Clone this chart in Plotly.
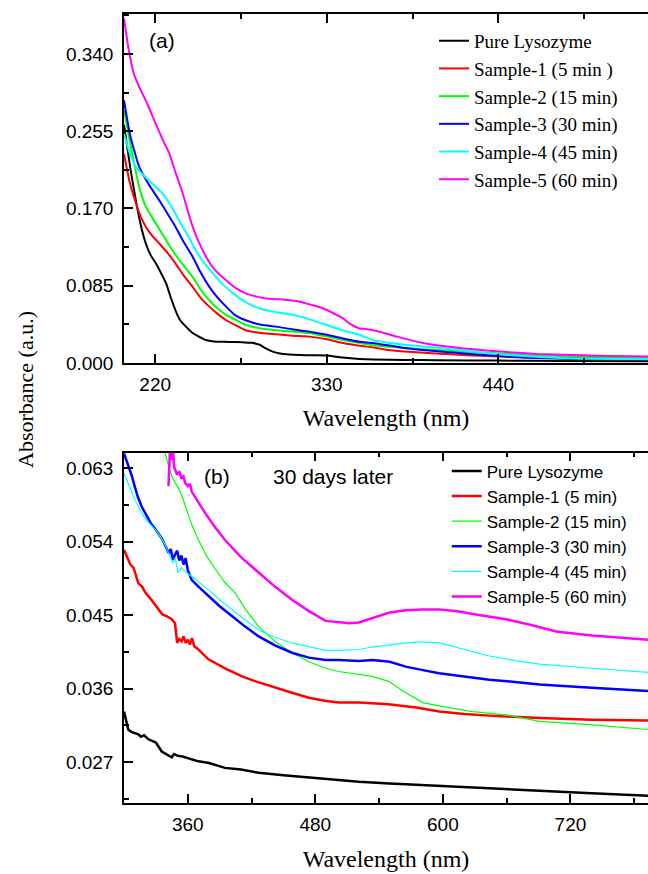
import plotly.graph_objects as go

# ---------------- Panel (a) data ----------------
names_a = ["Pure Lysozyme", "Sample-1 (5 min )", "Sample-2 (15 min)",
           "Sample-3 (30 min)", "Sample-4 (45 min)", "Sample-5 (60 min)"]
colors = ["#000000", "#FF0000", "#00FF00", "#0000FF", "#00FFFF", "#FF00FF"]

a_black_x = [200, 204, 207.6, 211, 214, 217, 220.4, 224, 227, 230, 233, 236, 239.7, 244, 248, 253, 259, 267, 276, 282, 287, 291, 295.4, 300, 306, 312.6, 322, 330, 340, 351, 360, 380, 400, 440, 480, 536]
a_black_y = [0.262, 0.215, 0.179, 0.150, 0.1315, 0.119, 0.1096, 0.098, 0.0876, 0.072, 0.058, 0.047, 0.040, 0.033, 0.029, 0.025, 0.0234, 0.0232, 0.0227, 0.0222, 0.020, 0.016, 0.0125, 0.0105, 0.0094, 0.0088, 0.0085, 0.0082, 0.0060, 0.0044, 0.0038, 0.0034, 0.0030, 0.0026, 0.0023, 0.0020]

a_red_x = [200, 203.5, 207.6, 211, 214, 218, 222.6, 228, 233, 238, 244, 249, 254.7, 260, 265.5, 272, 278, 288, 297.6, 308, 319, 330, 340.4, 351, 360, 370.5, 385, 400, 420, 445, 470, 500, 536]
a_red_y = [0.230, 0.200, 0.176, 0.160, 0.150, 0.140, 0.1315, 0.121, 0.1096, 0.097, 0.0838, 0.072, 0.062, 0.054, 0.047, 0.041, 0.036, 0.033, 0.0315, 0.030, 0.029, 0.026, 0.022, 0.019, 0.0170, 0.014, 0.0120, 0.0105, 0.0085, 0.0068, 0.0058, 0.0052, 0.0050]

a_green_x = [200, 204.4, 209.7, 214, 220.4, 226, 231, 237, 244, 249, 254.7, 260, 265.5, 272, 278, 288, 297.6, 308, 319, 330, 340.4, 351, 360, 380, 402.6, 445, 488, 536]
a_green_y = [0.278, 0.238, 0.194, 0.172, 0.1535, 0.138, 0.124, 0.110, 0.0948, 0.081, 0.069, 0.060, 0.053, 0.047, 0.0418, 0.038, 0.036, 0.0345, 0.033, 0.029, 0.0253, 0.022, 0.0195, 0.0165, 0.014, 0.010, 0.007, 0.006]

a_blue_x = [200, 204, 209.7, 216, 222.6, 228, 233, 238, 244, 249, 254.7, 260, 265.5, 271, 278, 288, 297.6, 308, 319, 330, 340.4, 351, 359.6, 380, 402.6, 445.5, 488, 536]
a_blue_y = [0.289, 0.250, 0.216, 0.196, 0.179, 0.164, 0.150, 0.134, 0.117, 0.100, 0.0838, 0.072, 0.062, 0.053, 0.047, 0.042, 0.040, 0.037, 0.0344, 0.031, 0.027, 0.0234, 0.022, 0.0165, 0.0125, 0.007, 0.0045, 0.004]

a_cyan_x = [200, 203.5, 207.6, 214, 220.4, 225, 229, 233, 237.6, 242, 246, 251, 257, 263, 270, 278, 287, 297, 308, 319, 330, 340, 351, 359.6, 380, 402.6, 445.5, 488, 536]
a_cyan_y = [0.252, 0.232, 0.216, 0.204, 0.194, 0.186, 0.176, 0.164, 0.150, 0.137, 0.124, 0.111, 0.0986, 0.087, 0.0766, 0.067, 0.060, 0.056, 0.053, 0.048, 0.0418, 0.036, 0.031, 0.0253, 0.020, 0.0165, 0.0088, 0.005, 0.0045]

a_mag_x = [200, 203, 206, 209.7, 215, 220.4, 225, 229, 233, 237.6, 241, 244, 248, 252.6, 258, 265.5, 272, 278, 285, 291, 300, 312.6, 320, 327.6, 334, 340.4, 345, 351, 355, 364, 375, 391.7, 410, 441, 465, 488, 510, 536]
a_mag_y = [0.379, 0.345, 0.320, 0.304, 0.285, 0.263, 0.245, 0.231, 0.210, 0.187, 0.167, 0.150, 0.133, 0.117, 0.103, 0.091, 0.082, 0.0766, 0.073, 0.071, 0.070, 0.0674, 0.064, 0.060, 0.055, 0.049, 0.043, 0.038, 0.0375, 0.0344, 0.029, 0.022, 0.0175, 0.0125, 0.010, 0.0088, 0.0078, 0.007]

# ---------------- Panel (b) data ----------------
names_b = ["Pure Lysozyme", "Sample-1 (5 min)", "Sample-2 (15 min)",
           "Sample-3 (30 min)", "Sample-4 (45 min)", "Sample-5 (60 min)"]

b_black_x = [300, 302, 304, 307, 310, 313.5, 316, 319, 323, 326, 330, 335.5, 340, 345, 347, 350, 355, 363.8, 370, 380, 395, 410, 426.7, 450, 474, 500, 521, 550, 596, 640, 691, 740, 793]
b_black_y = [0.0332, 0.0322, 0.0310, 0.0307, 0.0306, 0.0304, 0.0301, 0.0303, 0.0298, 0.0296, 0.0294, 0.0283, 0.0280, 0.0276, 0.0280, 0.0278, 0.0277, 0.0274, 0.0271, 0.0269, 0.0263, 0.0261, 0.0257, 0.0254, 0.0251, 0.0248, 0.0246, 0.0244, 0.0241, 0.0238, 0.0235, 0.0232, 0.0229]

b_red_x = [300, 303, 306, 309, 313.5, 317, 320, 325, 332, 336, 340, 345, 348, 349, 350, 352, 354, 356, 358, 360, 362, 364, 366, 370, 379.5, 395, 411, 426, 442.5, 458, 474, 490, 502, 521, 549, 575, 596.5, 620, 643.7, 691, 740, 793]
b_red_y = [0.0530, 0.0521, 0.0512, 0.0508, 0.0489, 0.0485, 0.0478, 0.0470, 0.0457, 0.0451, 0.0449, 0.0445, 0.0440, 0.0428, 0.0416, 0.0421, 0.0418, 0.0424, 0.0416, 0.0420, 0.0414, 0.0422, 0.0412, 0.0408, 0.0396, 0.0385, 0.0375, 0.0368, 0.0361, 0.0355, 0.0349, 0.0345, 0.0343, 0.0343, 0.0341, 0.0337, 0.0332, 0.0329, 0.0327, 0.0324, 0.0322, 0.0321]

b_green_x = [336, 338, 342, 345, 348, 351, 354, 357.5, 360, 364, 370, 378, 386, 395, 404.7, 415, 426.7, 442, 458, 474, 489.6, 502, 521, 533.6, 549, 565, 581, 596.5, 628, 659.4, 691, 738, 793]
b_green_y = [0.0665, 0.0652, 0.0632, 0.0620, 0.0612, 0.0606, 0.0598, 0.0583, 0.0575, 0.0560, 0.0542, 0.0522, 0.0506, 0.0490, 0.0477, 0.0456, 0.0436, 0.0418, 0.0404, 0.0393, 0.0385, 0.0381, 0.0377, 0.0375, 0.0369, 0.0355, 0.0343, 0.0339, 0.0332, 0.0328, 0.0320, 0.0316, 0.0310]

b_blue_x = [300, 303, 307, 310, 313, 316.6, 320, 325, 332, 336, 340, 342, 344, 346, 348, 350, 352, 354, 356, 358, 360, 363.8, 370, 379.5, 390, 401.5, 414, 426.7, 442, 458, 474, 489.6, 502, 521, 533.6, 550, 565, 580, 596.5, 620, 643.7, 670, 691, 740, 793]
b_blue_y = [0.0648, 0.0637, 0.0622, 0.0608, 0.0595, 0.0583, 0.0575, 0.0563, 0.0551, 0.0543, 0.0532, 0.0526, 0.0531, 0.0518, 0.0524, 0.0529, 0.0517, 0.0523, 0.0512, 0.0520, 0.0505, 0.0493, 0.0485, 0.0473, 0.0461, 0.0449, 0.0436, 0.0424, 0.0413, 0.0404, 0.0398, 0.0395, 0.0395, 0.0394, 0.0395, 0.0393, 0.0387, 0.0383, 0.0379, 0.0375, 0.0371, 0.0368, 0.0365, 0.0361, 0.0357]

b_cyan_x = [300, 305, 310, 316.6, 322, 332, 338, 342, 346, 348, 351, 354, 358, 364, 370, 379.5, 390, 401.5, 414, 426.7, 442, 458, 474, 489.6, 502, 521, 533.6, 550, 565, 574.5, 585, 596.5, 620, 643.7, 670, 691, 740, 793]
b_cyan_y = [0.0624, 0.0608, 0.0592, 0.0575, 0.0565, 0.0551, 0.0538, 0.0526, 0.0514, 0.0520, 0.0502, 0.0508, 0.0503, 0.0497, 0.0491, 0.0481, 0.0469, 0.0457, 0.0444, 0.0432, 0.0423, 0.0416, 0.0411, 0.0407, 0.0407, 0.0408, 0.0411, 0.0414, 0.0416, 0.0417, 0.0417, 0.0416, 0.0408, 0.0400, 0.0394, 0.0390, 0.0385, 0.0380]

b_mag_x = [341.8, 342.5, 343.5, 345, 346, 347, 348, 350, 352, 354, 356, 357.5, 360, 362, 363.8, 368, 372, 376.4, 385, 395, 410, 426.7, 442, 458, 474, 489.6, 502, 512, 521, 535, 549, 565, 580.7, 596, 612, 635, 659.4, 683, 706.6, 740, 793]
b_mag_y = [0.0608, 0.0640, 0.0660, 0.0640, 0.0660, 0.0632, 0.0628, 0.0622, 0.0626, 0.0618, 0.0620, 0.0612, 0.0608, 0.0611, 0.0601, 0.0592, 0.0584, 0.0575, 0.0559, 0.0542, 0.0521, 0.0502, 0.0485, 0.0469, 0.0455, 0.0443, 0.0441, 0.0440, 0.0441, 0.0447, 0.0453, 0.0456, 0.0457, 0.0457, 0.0455, 0.0450, 0.0445, 0.0438, 0.0430, 0.0425, 0.0420]

a_series = [(a_black_x, a_black_y), (a_red_x, a_red_y), (a_green_x, a_green_y),
            (a_blue_x, a_blue_y), (a_cyan_x, a_cyan_y), (a_mag_x, a_mag_y)]
b_series = [(b_black_x, b_black_y), (b_red_x, b_red_y), (b_green_x, b_green_y),
            (b_blue_x, b_blue_y), (b_cyan_x, b_cyan_y), (b_mag_x, b_mag_y)]
b_widths = [2.5, 2.5, 1.2, 2.5, 1.2, 2.5]

SANS = "Liberation Sans, Arial, sans-serif"
SERIF = "Liberation Serif, Times New Roman, serif"

fig = go.Figure()
for (x, y), n, c in zip(a_series, names_a, colors):
    fig.add_trace(go.Scatter(x=x, y=y, name=n, mode="lines",
                             line=dict(color=c, width=2, shape="spline", smoothing=0.5),
                             xaxis="x", yaxis="y", legend="legend"))
for (x, y), n, c, w in zip(b_series, names_b, colors, b_widths):
    fig.add_trace(go.Scatter(x=x, y=y, name=n, mode="lines",
                             line=dict(color=c, width=w),
                             xaxis="x2", yaxis="y2", legend="legend2"))

axis_common = dict(showline=True, linecolor="black", linewidth=1.5,
                   ticks="inside", ticklen=9, tickwidth=1.5, tickcolor="black",
                   showgrid=False, zeroline=False, automargin=False,
                   tickfont=dict(family=SANS, size=19, color="black"))
xtitle_font = dict(family=SERIF, size=24, color="black")

fig.update_layout(
    width=648, height=874,
    margin=dict(l=124, r=0, t=14, b=71, autoexpand=False),
    paper_bgcolor="white", plot_bgcolor="white",
    xaxis=dict(**axis_common, domain=[0, 1], anchor="y", range=[200, 536],
               tick0=220, dtick=110, mirror="allticks", ticklabelstandoff=3,
               minor=dict(ticks="inside", ticklen=5, tickwidth=1.5, dtick=55, tick0=220, tickcolor="black"),
               title=dict(text="Wavelength (nm)", font=xtitle_font, standoff=16)),
    yaxis=dict(**axis_common, domain=[0.5577, 1], anchor="x", range=[0, 0.384],
               tick0=0, dtick=0.085, tickformat=".3f", ticklabelstandoff=5,
               minor=dict(ticks="inside", ticklen=5, tickwidth=1.5, dtick=0.0425, tick0=0, tickcolor="black")),
    xaxis2=dict(**axis_common, domain=[0, 1], anchor="y2", range=[300, 793],
                tick0=360, dtick=120, mirror="allticks", ticklabelstandoff=3,
                minor=dict(ticks="inside", ticklen=5, tickwidth=1.5, dtick=60, tick0=360, tickcolor="black"),
                title=dict(text="Wavelength (nm)", font=xtitle_font, standoff=17)),
    yaxis2=dict(**axis_common, domain=[0, 0.444], anchor="x2", range=[0.022, 0.0649],
                tick0=0.027, dtick=0.009, tickformat=".3f", ticklabelstandoff=5,
                minor=dict(ticks="inside", ticklen=5, tickwidth=1.5, dtick=0.0045, tick0=0.027, tickcolor="black")),
    legend=dict(x=0.5916, y=0.990, xanchor="left", yanchor="top",
                bgcolor="rgba(0,0,0,0)", borderwidth=0,
                font=dict(family=SERIF, size=19, color="black")),
    legend2=dict(x=0.616, y=0.443, xanchor="left", yanchor="top",
                 bgcolor="rgba(0,0,0,0)", borderwidth=0,
                 font=dict(family=SANS, size=17, color="black")),
    showlegend=True,
    annotations=[
        dict(text="Absorbance (a.u.)", textangle=-90, xref="paper", yref="paper",
             x=(25 - 124) / 524, y=(803 - 390) / 789, xanchor="center", yanchor="middle", showarrow=False,
             font=dict(family=SERIF, size=22, color="black")),
        dict(text="(a)", xref="paper", yref="paper", x=(162 - 124) / 524, y=(803 - 40) / 789,
             xanchor="center", yanchor="middle", showarrow=False,
             font=dict(family=SANS, size=21, color="black")),
        dict(text="(b)", xref="paper", yref="paper", x=(216.7 - 124) / 524, y=(803 - 476.7) / 789,
             xanchor="center", yanchor="middle", showarrow=False,
             font=dict(family=SANS, size=21, color="black")),
        dict(text="30 days later", xref="paper", yref="paper", x=(332.5 - 124) / 524, y=(803 - 476.5) / 789,
             xanchor="center", yanchor="middle", showarrow=False,
             font=dict(family=SANS, size=21, color="black")),
    ],
)

# remove the default 8px page margin so the figure sits at the window origin
fig.write_html("out.html", config={"displayModeBar": False},
               post_script="document.body.style.margin='0';")
